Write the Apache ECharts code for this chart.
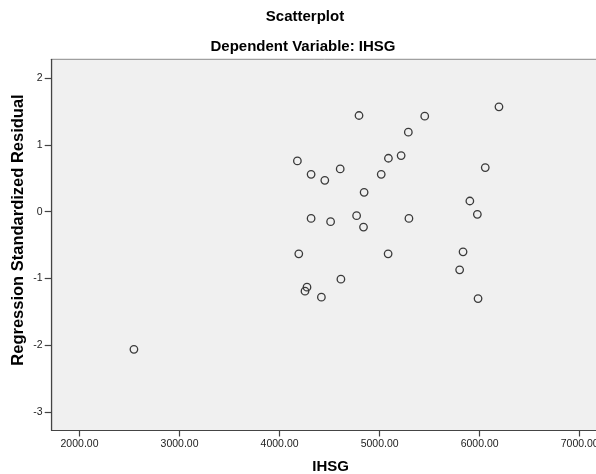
<!DOCTYPE html>
<html>
<head>
<meta charset="utf-8">
<script src="https://cdn.jsdelivr.net/npm/echarts@6/dist/echarts.min.js"></script>
<style>
html,body{margin:0;padding:0;background:#fff;}
#chart{width:596px;height:474px;}
</style>
</head>
<body>
<div id="chart"></div>
<script>
// IHSG values (x) and regression standardized residuals (y)
var ihsg = [2544, 4794, 5451, 6193, 5287, 4178, 5088, 5215, 4315, 4606,
            4452, 5016, 6056, 4845, 5902, 5977, 4315, 4510, 4770, 4839,
            5293, 4192, 5085, 5834, 5800, 4613, 4274, 4254, 4418, 5984];
var residual = [-2.06, 1.44, 1.43, 1.57, 1.19, 0.76, 0.80, 0.84, 0.56, 0.64,
                0.47, 0.56, 0.66, 0.29, 0.16, -0.04, -0.10, -0.15, -0.06, -0.23,
                -0.10, -0.63, -0.63, -0.60, -0.87, -1.01, -1.13, -1.19, -1.28, -1.30];
var xTickValues = [2000, 3000, 4000, 5000, 6000, 7000];
var xTickLabels = ['2000.00', '3000.00', '4000.00', '5000.00', '6000.00', '7000.00'];
var yTickValues = [-3, -2, -1, 0, 1, 2];
var yTickLabels = ['-3', '-2', '-1', '0', '1', '2'];
var titleText = 'Scatterplot';
var subtitleText = 'Dependent Variable: IHSG';
var xName = 'IHSG';
var yName = 'Regression Standardized Residual';

var points = ihsg.map(function (v, i) { return [v, residual[i]]; });
var FONT = "'Liberation Sans', Arial, sans-serif";

var chart = echarts.init(document.getElementById('chart'), null, {renderer: 'canvas'});
chart.setOption({
  animation: false,
  backgroundColor: '#ffffff',
  graphic: [
    {type: 'text', x: 305, y: 17, style: {text: titleText, fill: '#000', font: 'bold 15px ' + FONT, textAlign: 'center', textVerticalAlign: 'middle'}},
    {type: 'text', x: 303, y: 47, style: {text: subtitleText, fill: '#000', font: 'bold 15px ' + FONT, textAlign: 'center', textVerticalAlign: 'middle'}},
    {type: 'text', x: 18, y: 230, rotation: Math.PI / 2, style: {text: yName, fill: '#000', font: 'bold 16.5px ' + FONT, textAlign: 'center', textVerticalAlign: 'middle'}}
  ],
  grid: {
    left: 51.7, top: 59.3, width: 558, height: 371.2,
    containLabel: false, outerBoundsMode: 'none',
    show: true, backgroundColor: '#f0f0f0', borderColor: '#8a8a8a', borderWidth: 1
  },
  xAxis: {
    type: 'value', min: 1722, max: 7300,
    splitLine: {show: false},
    axisLine: {show: true, onZero: false, lineStyle: {color: '#444', width: 1.2}},
    axisTick: {show: true, length: 6, customValues: xTickValues, lineStyle: {color: '#444', width: 1.2}},
    axisLabel: {
      customValues: xTickValues, margin: 8, color: '#222', fontSize: 10.5, fontFamily: FONT,
      formatter: function (v) { var i = xTickValues.indexOf(v); return i >= 0 ? xTickLabels[i] : ''; }
    },
    name: xName, nameLocation: 'middle', nameGap: 29,
    nameTextStyle: {color: '#000', fontSize: 15, fontWeight: 'bold', fontFamily: FONT}
  },
  yAxis: {
    type: 'value', min: -3.275, max: 2.281,
    splitLine: {show: false},
    axisLine: {show: true, onZero: false, lineStyle: {color: '#444', width: 1.2}},
    axisTick: {show: true, length: 7, customValues: yTickValues, lineStyle: {color: '#444', width: 1.2}},
    axisLabel: {
      customValues: yTickValues, margin: 9, color: '#222', fontSize: 10.5, fontFamily: FONT,
      formatter: function (v) { var i = yTickValues.indexOf(Math.round(v)); return i >= 0 ? yTickLabels[i] : ''; }
    }
  },
  series: [{
    type: 'scatter',
    data: points,
    symbol: 'circle',
    symbolSize: 7.5,
    itemStyle: {color: 'rgba(0,0,0,0)', borderColor: '#3a3a3a', borderWidth: 1.3, opacity: 1},
    emphasis: {disabled: true}
  }]
});
</script>
</body>
</html>
